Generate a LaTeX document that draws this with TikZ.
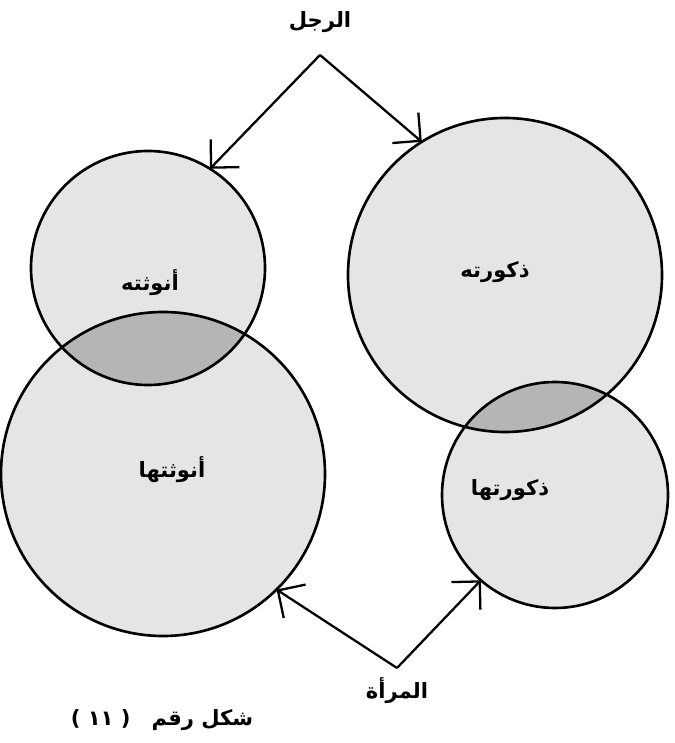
\documentclass[tikz,border=0pt]{standalone}
\usepackage{fontspec}
\newfontfamily\arabicfont[Script=Arabic]{DejaVu Sans}
\newfontfamily\latinfont{DejaVu Sans}
\TeXXeTstate=1
\usetikzlibrary{arrows.meta,calc}
\newcommand{\radHeF}{117}
\newcommand{\radHeM}{157}
\newcommand{\radSheF}{162}
\newcommand{\radSheM}{113}

\begin{document}
\begin{tikzpicture}[
      x=0.02cm, y=0.02cm,
      ring/.style={draw, line width=1.5pt},
      shade/.style={fill=gray!20},
      lens/.style={fill=gray!58},
      link/.style={line width=1.3pt, -{Straight Barb[length=4mm, width=8mm]}},
      word/.style={font=\arabicfont\bfseries\large, inner sep=1pt},
    ]
    \useasboundingbox (0,0) rectangle (675,743);

    % circle centres
    \coordinate (heF) at (148,475);
    \coordinate (heM) at (505,468);
    \coordinate (sheF) at (163,269);
    \coordinate (sheM) at (555,248);

    \fill[shade] (heF) circle[radius=\radHeF];
    \fill[shade] (heM) circle[radius=\radHeM];
    \fill[shade] (sheF) circle[radius=\radSheF];
    \fill[shade] (sheM) circle[radius=\radSheM];

    % overlaps
    \begin{scope}
      \clip (heF) circle[radius=\radHeF];
      \fill[lens] (sheF) circle[radius=\radSheF];
    \end{scope}
    \begin{scope}
      \clip (heM) circle[radius=\radHeM];
      \fill[lens] (sheM) circle[radius=\radSheM];
    \end{scope}

    \draw[ring] (heF) circle[radius=\radHeF];
    \draw[ring] (heM) circle[radius=\radHeM];
    \draw[ring] (sheF) circle[radius=\radSheF];
    \draw[ring] (sheM) circle[radius=\radSheM];

    \node[word] (heFLabel) at (150,460) {\beginR أنوثته\endR};
    \node[word] (heMLabel) at (495,471) {\beginR ذكورته\endR};
    \node[word] (sheFLabel) at (172,273) {\beginR أنوثتها\endR};
    \node[word] (sheMLabel) at (510,253) {\beginR ذكورتها\endR};

    % the man, above
    \node[word] (man) at (320,721) {\beginR الرجل\endR};
    \coordinate (manApex) at (320,688);
    \coordinate (heFTip) at ($(heF)+(58:\radHeF)$);
    \coordinate (heMTip) at ($(heM)+(122:\radHeM)$);
    \draw[link] (manApex) -- (heFTip);
    \draw[link] (manApex) -- (heMTip);

    % the woman, below
    \node[word] (woman) at (397,52) {\beginR المرأة\endR};
    \coordinate (womanApex) at (397,75);
    \coordinate (sheFTip) at ($(sheF)+(-45.5:\radSheF)$);
    \coordinate (sheMTip) at ($(sheM)+(-131:\radSheM)$);
    \draw[link] (womanApex) -- (sheFTip);
    \draw[link] (womanApex) -- (sheMTip);

    \node[word] (caption) at (162,23)
      {{\latinfont\bfseries(}\ ١١\ {\latinfont\bfseries)}\quad\beginR شكل رقم\endR};
  \end{tikzpicture}
\end{document}
